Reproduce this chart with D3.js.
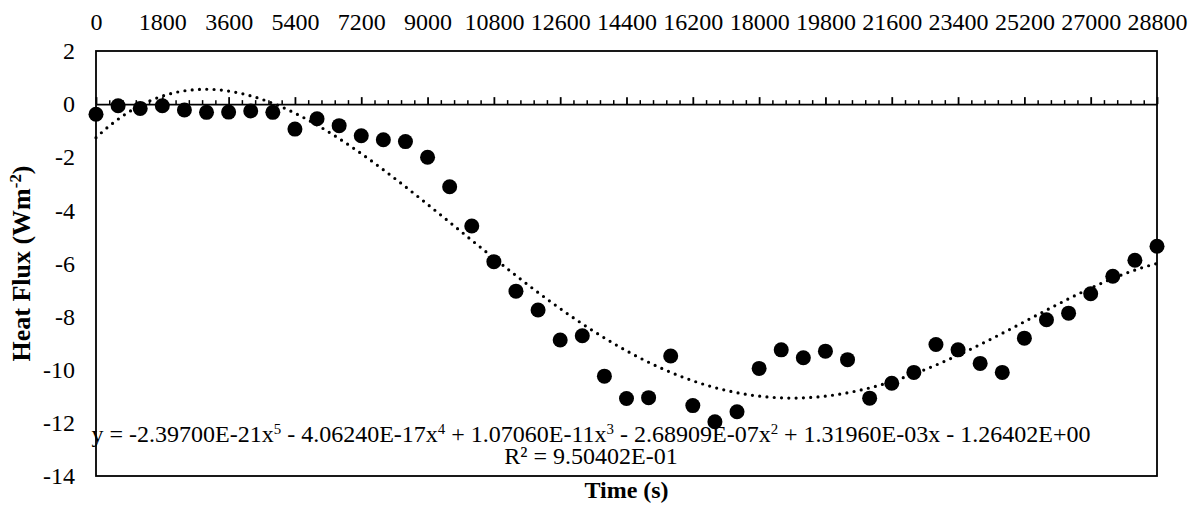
<!DOCTYPE html>
<html>
<head>
<meta charset="utf-8">
<script src="https://cdn.jsdelivr.net/npm/d3@7"></script>
<style>
  body { margin: 0; background: #fff; }
  text { font-family: "Liberation Serif", "Times New Roman", serif; fill: #000; }
</style>
</head>
<body>
<script>
// time (s), one reading every 600 s
const times = [0, 600, 1200, 1800, 2400, 3000, 3600, 4200, 4800, 5400, 6000, 6600, 7200,
  7800, 8400, 9000, 9600, 10200, 10800, 11400, 12000, 12600, 13200, 13800, 14400,
  15000, 15600, 16200, 16800, 17400, 18000, 18600, 19200, 19800, 20400, 21000, 21600,
  22200, 22800, 23400, 24000, 24600, 25200, 25800, 26400, 27000, 27600, 28200, 28800];
// heat flux (W m-2)
const flux = [-0.38, -0.06, -0.16, -0.06, -0.22, -0.31, -0.30, -0.26, -0.31, -0.94, -0.55,
  -0.81, -1.19, -1.34, -1.41, -2.00, -3.11, -4.59, -5.93, -7.04, -7.75, -8.88, -8.72,
  -10.24, -11.08, -11.05, -9.48, -11.35, -11.96, -11.58, -9.95, -9.25, -9.55, -9.30,
  -9.62, -11.07, -10.51, -10.10, -9.05, -9.25, -9.76, -10.10, -8.81, -8.12, -7.87,
  -7.14, -6.48, -5.88, -5.35];
// polynomial trendline, x^5 ... x^0
const coef = [-2.39700E-21, -4.06240E-17, 1.07060E-11, -2.68909E-07, 1.31960E-03, -1.26402E+00];
const xLabels = [0, 1800, 3600, 5400, 7200, 9000, 10800, 12600, 14400, 16200, 18000,
  19800, 21600, 23400, 25200, 27000, 28800];
const yLabels = [2, 0, -2, -4, -6, -8, -10, -12, -14];

const width = 1195, height = 509;
const pLeft = 96, pRight = 1157, pTop = 51, pBottom = 476;
const fs = 24;

const svg = d3.select('body').append('svg').attr('width', width).attr('height', height);

const x = d3.scaleLinear().domain([0, 28800]).range([pLeft, pRight]);
const y = d3.scaleLinear().domain([-14, 2]).range([pBottom, pTop]);

// plot box
svg.append('rect').attr('x', pLeft).attr('y', pTop).attr('width', pRight - pLeft).attr('height', pBottom - pTop)
  .attr('fill', 'none').attr('stroke', '#000').attr('stroke-width', 1.8);

// top labels
const gTop = svg.append('g').attr('transform', 'translate(0,30)')
  .call(d3.axisTop(x).tickValues(xLabels).tickSize(0).tickPadding(0).tickFormat(d => String(d)));
gTop.select('.domain').remove();
gTop.selectAll('text').style('font-size', fs + 'px');

// axis along y = 0 with minor and major ticks
const minor = d3.range(0, 28801, 360).filter(d => d % 1800 !== 0);
const gMinor = svg.append('g').attr('transform', `translate(0,${y(0)})`)
  .call(d3.axisTop(x).tickValues(minor).tickSize(4).tickSizeOuter(0).tickFormat(''));
gMinor.select('.domain').remove();
const gZero = svg.append('g').attr('transform', `translate(0,${y(0)})`)
  .call(d3.axisTop(x).tickValues(xLabels).tickSize(7).tickSizeOuter(0).tickFormat(''));
gZero.selectAll('line, path').attr('stroke-width', 1.8);
gMinor.selectAll('line').attr('stroke-width', 1.5);

// y labels
const gY = svg.append('g').attr('transform', `translate(${pLeft},0)`)
  .call(d3.axisLeft(y).tickValues(yLabels).tickSize(0).tickPadding(21).tickFormat(d => String(d)));
gY.select('.domain').remove();
gY.selectAll('text').style('font-size', fs + 'px');

// trendline
const poly = t => coef.reduce((acc, c) => acc * t + c, 0);
const tl = d3.range(0, 28801, 100);
svg.append('path').datum(tl)
  .attr('d', d3.line().x(d => x(d)).y(d => y(poly(d))))
  .attr('fill', 'none').attr('stroke', '#000').attr('stroke-width', 3.2)
  .attr('stroke-linecap', 'round').attr('stroke-dasharray', '0 7.3');

// points
svg.append('g').selectAll('circle').data(flux).enter().append('circle')
  .attr('cx', (d, i) => x(times[i])).attr('cy', d => y(d)).attr('r', 7.5).attr('fill', '#000');

// equation
const eq = svg.append('text').attr('x', 591).attr('y', 442).attr('text-anchor', 'middle')
  .style('font-size', fs + 'px');
const parts = [['y = -2.39700E-21x', '5'], [' - 4.06240E-17x', '4'], [' + 1.07060E-11x', '3'],
  [' - 2.68909E-07x', '2'], [' + 1.31960E-03x - 1.26402E+00', null]];
parts.forEach(p => {
  eq.append('tspan').text(p[0]);
  if (p[1]) eq.append('tspan').attr('baseline-shift', 'super').style('font-size', '62%').text(p[1]);
});
svg.append('text').attr('x', 591).attr('y', 464).attr('text-anchor', 'middle')
  .style('font-size', fs + 'px').text('R² = 9.50402E-01');

// axis titles
svg.append('text').attr('x', (pLeft + pRight) / 2).attr('y', 498).attr('text-anchor', 'middle')
  .style('font-size', fs + 'px').style('font-weight', 'bold').text('Time (s)');
const yt = svg.append('text').attr('transform', `translate(30,${(pTop + pBottom) / 2}) rotate(-90)`)
  .attr('text-anchor', 'middle').style('font-size', '26px').style('font-weight', 'bold');
yt.append('tspan').text('Heat Flux (Wm');
yt.append('tspan').attr('baseline-shift', 'super').style('font-size', '65%').text('-2');
yt.append('tspan').text(')');
</script>
</body>
</html>
